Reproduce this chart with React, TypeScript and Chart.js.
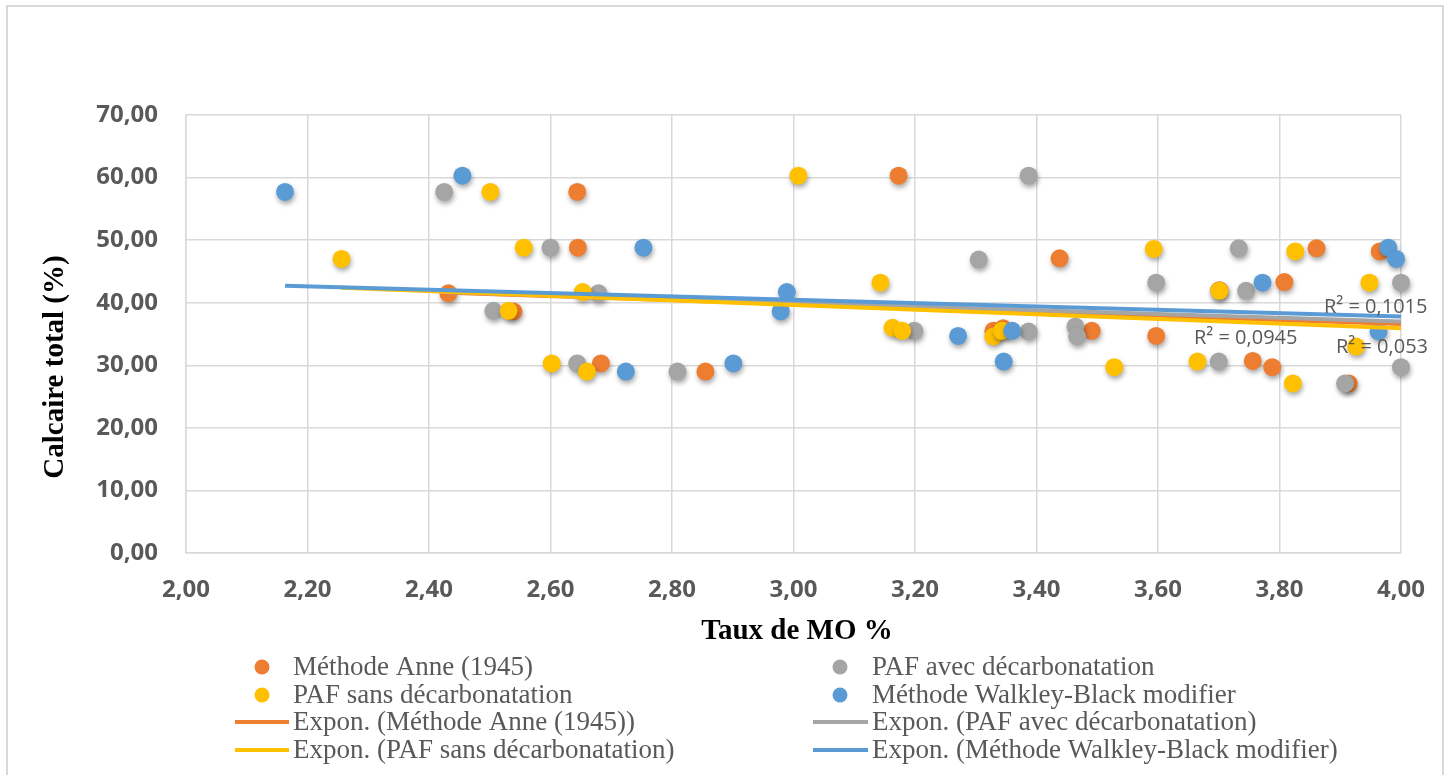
import React, { useEffect, useRef } from "react";
import { Chart, registerables } from "chart.js";

Chart.register(...registerables);

// ---------- data ----------
const seriesNames = [
  "Méthode Anne (1945)",
  "PAF avec décarbonatation",
  "PAF sans décarbonatation",
  "Méthode Walkley-Black modifier",
];

const anneX = [2.432, 2.539, 2.644, 2.645, 2.683, 2.855, 3.173, 3.329, 3.345, 3.438, 3.491, 3.597, 3.701, 3.756, 3.788, 3.808, 3.861, 3.914, 3.965];
const anneY = [41.5, 38.6, 57.7, 48.8, 30.3, 29.0, 60.3, 35.5, 35.9, 47.1, 35.5, 34.7, 42.0, 30.7, 29.7, 43.3, 48.7, 27.1, 48.2];

const avecX = [2.425, 2.506, 2.600, 2.644, 2.679, 2.809, 3.199, 3.305, 3.387, 3.387, 3.464, 3.467, 3.597, 3.700, 3.733, 3.745, 3.908, 4.000, 4.000];
const avecY = [57.7, 38.7, 48.8, 30.3, 41.5, 29.0, 35.5, 46.9, 60.3, 35.4, 36.2, 34.6, 43.2, 30.6, 48.7, 41.9, 27.1, 43.2, 29.7];

const sansX = [2.256, 2.501, 2.531, 2.556, 2.602, 2.653, 2.660, 3.008, 3.143, 3.163, 3.179, 3.329, 3.343, 3.528, 3.593, 3.665, 3.701, 3.822, 3.826, 3.926, 3.948];
const sansY = [47.0, 57.7, 38.7, 48.8, 30.3, 41.7, 29.0, 60.3, 43.2, 36.0, 35.5, 34.6, 35.5, 29.7, 48.6, 30.6, 41.9, 27.1, 48.2, 33.0, 43.2];

const wbX = [2.163, 2.455, 2.724, 2.753, 2.901, 2.979, 2.989, 3.271, 3.346, 3.360, 3.772, 3.963, 3.979, 3.992];
const wbY = [57.7, 60.3, 29.0, 48.8, 30.3, 38.6, 41.7, 34.7, 30.6, 35.5, 43.2, 35.4, 48.8, 47.0];

// exponential trend lines (end values)
const anneTrendX = [2.432, 4.0];
const anneTrendY = [41.6, 36.6];
const avecTrendX = [2.425, 4.0];
const avecTrendY = [41.7, 37.0];
const sansTrendX = [2.256, 4.0];
const sansTrendY = [42.4, 35.9];
const wbTrendX = [2.163, 4.0];
const wbTrendY = [42.7, 37.8];

const r2Labels = ["R² = 0,0945", "R² = 0,1015", "R² = 0,053"];

const xTickLabels = ["2,00", "2,20", "2,40", "2,60", "2,80", "3,00", "3,20", "3,40", "3,60", "3,80", "4,00"];
const yTickLabels = ["0,00", "10,00", "20,00", "30,00", "40,00", "50,00", "60,00", "70,00"];

const xTitle = "Taux de MO %";
const yTitle = "Calcaire total (%)";

// ---------- styles / layout ----------
const COLORS = ["#ED7D31", "#A5A5A5", "#FFC000", "#5B9BD5"];
const TEXT_GRAY = "#595959";
const GRID = "#d9d9d9";
const W = 1451;
const H = 775;
const AREA = { left: 186, right: 1401, top: 115, bottom: 553 };
const r2Pos = [
  { x: 1194, y: 344 },
  { x: 1324, y: 313 },
  { x: 1336, y: 353 },
];
const legendCols = [
  { marker: 262, l1: 235, l2: 289, text: 293 },
  { marker: 840, l1: 813, l2: 868, text: 872 },
];
const legendRows = [667, 695, 722, 750];

const pts = (xs: number[], ys: number[]) => xs.map((x, i) => ({ x, y: ys[i] }));

const shadowPlugin = {
  id: "markerShadow",
  beforeDatasetDraw(chart: any, args: any) {
    const ds = chart.data.datasets[args.index];
    if (ds.shadow) {
      const ctx = chart.ctx;
      ctx.save();
      ctx.shadowColor = "rgba(0,0,0,0.35)";
      ctx.shadowBlur = 5;
      ctx.shadowOffsetX = 1;
      ctx.shadowOffsetY = 3;
    }
  },
  afterDatasetDraw(chart: any, args: any) {
    const ds = chart.data.datasets[args.index];
    if (ds.shadow) chart.ctx.restore();
  },
};

const overlayPlugin = {
  id: "overlay",
  afterDraw(chart: any) {
    const ctx = chart.ctx;
    ctx.save();
    // axis titles
    ctx.fillStyle = "#000";
    ctx.font = "bold 29px 'Liberation Serif', 'Times New Roman', serif";
    ctx.textAlign = "center";
    ctx.textBaseline = "alphabetic";
    ctx.fillText(xTitle, 797, 639);
    ctx.save();
    ctx.translate(63, 367);
    ctx.rotate(-Math.PI / 2);
    ctx.fillText(yTitle, 0, 0);
    ctx.restore();

    // R² labels
    ctx.fillStyle = TEXT_GRAY;
    ctx.font = "20px 'Open Sans', sans-serif";
    ctx.textAlign = "left";
    r2Labels.forEach((t, i) => ctx.fillText(t, r2Pos[i].x, r2Pos[i].y));

    // legend (two columns)
    const order = [
      { kind: "pt", s: 0, col: 0, row: 0 },
      { kind: "pt", s: 1, col: 1, row: 0 },
      { kind: "pt", s: 2, col: 0, row: 1 },
      { kind: "pt", s: 3, col: 1, row: 1 },
      { kind: "ln", s: 0, col: 0, row: 2 },
      { kind: "ln", s: 1, col: 1, row: 2 },
      { kind: "ln", s: 2, col: 0, row: 3 },
      { kind: "ln", s: 3, col: 1, row: 3 },
    ];
    ctx.font = "27px 'Liberation Serif', 'Times New Roman', serif";
    ctx.textBaseline = "middle";
    order.forEach((it) => {
      const c = legendCols[it.col];
      const y = legendRows[it.row];
      if (it.kind === "pt") {
        ctx.fillStyle = COLORS[it.s];
        ctx.beginPath();
        ctx.arc(c.marker, y, 7.5, 0, Math.PI * 2);
        ctx.fill();
      } else {
        ctx.strokeStyle = COLORS[it.s];
        ctx.lineWidth = 4;
        ctx.beginPath();
        ctx.moveTo(c.l1, y);
        ctx.lineTo(c.l2, y);
        ctx.stroke();
      }
      ctx.fillStyle = TEXT_GRAY;
      const label = it.kind === "pt" ? seriesNames[it.s] : `Expon. (${seriesNames[it.s]})`;
      ctx.fillText(label, c.text, y + 1);
    });
    ctx.restore();
  },
};

export default function App() {
  const ref = useRef<HTMLCanvasElement | null>(null);

  useEffect(() => {
    if (!ref.current) return;
    const scatterSets = [
      [anneX, anneY],
      [avecX, avecY],
      [sansX, sansY],
      [wbX, wbY],
    ].map(([xs, ys], i) => ({
      type: "scatter" as const,
      label: seriesNames[i],
      data: pts(xs, ys),
      backgroundColor: COLORS[i],
      borderColor: COLORS[i],
      pointRadius: 9,
      pointBorderWidth: 0,
      showLine: false,
      clip: false,
      order: 7 - i,
      shadow: true,
    }));
    const trendSets = [
      [anneTrendX, anneTrendY],
      [avecTrendX, avecTrendY],
      [sansTrendX, sansTrendY],
      [wbTrendX, wbTrendY],
    ].map(([xs, ys], i) => ({
      type: "scatter" as const,
      label: `Expon. (${seriesNames[i]})`,
      data: pts(xs, ys),
      borderColor: COLORS[i],
      backgroundColor: COLORS[i],
      borderWidth: 4,
      pointRadius: 0,
      showLine: true,
      clip: false,
      order: 3 - i,
    }));

    const chart = new Chart(ref.current, {
      type: "scatter",
      data: { datasets: [...scatterSets, ...trendSets] as any },
      options: {
        responsive: false,
        animation: false,
        events: [],
        layout: {
          padding: { left: 0, top: AREA.top, right: W - AREA.right, bottom: 0 },
        },
        plugins: {
          legend: { display: false },
          tooltip: { enabled: false },
        },
        scales: {
          x: {
            type: "linear",
            min: 2,
            max: 4,
            afterFit: (s: any) => {
              s.height = H - AREA.bottom;
            },
            ticks: {
              stepSize: 0.2,
              padding: 23,
              color: TEXT_GRAY,
              font: { family: "'Open Sans', sans-serif", size: 24, weight: "bold" },
              callback: (_v: any, i: number) => xTickLabels[i],
            },
            grid: { color: GRID, lineWidth: 1.5, drawTicks: false },
            border: { color: GRID, width: 1.5 },
          },
          y: {
            type: "linear",
            min: 0,
            max: 70,
            afterFit: (s: any) => {
              s.width = AREA.left;
            },
            ticks: {
              stepSize: 10,
              padding: 28,
              color: TEXT_GRAY,
              font: { family: "'Open Sans', sans-serif", size: 24, weight: "bold" },
              callback: (_v: any, i: number) => yTickLabels[i],
            },
            grid: { color: GRID, lineWidth: 1.5, drawTicks: false },
            border: { color: GRID, width: 1.5 },
          },
        },
      } as any,
      plugins: [shadowPlugin, overlayPlugin],
    });
    return () => chart.destroy();
  }, []);

  return (
    <div style={{ position: "absolute", left: 0, top: 0, width: W, height: H, overflow: "hidden", background: "#fff" }}>
      <div
        style={{
          position: "absolute",
          left: 6,
          top: 5,
          width: 1438,
          height: 820,
          border: "2px solid #d9d9d9",
          boxSizing: "border-box",
        }}
      />
      <canvas ref={ref} width={W} height={H} style={{ position: "absolute", left: 0, top: 0, width: W, height: H }} />
    </div>
  );
}
